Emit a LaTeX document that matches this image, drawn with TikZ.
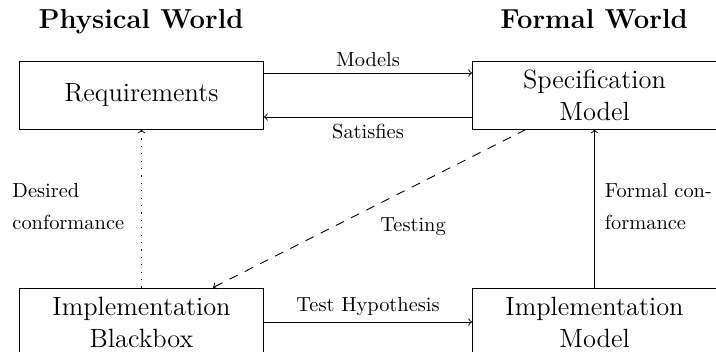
\documentclass[tikz,border=0pt]{standalone}
\usetikzlibrary{calc}
\begin{document}
\begin{tikzpicture}[x=0.5pt,y=-0.5pt,
  line width=0.45pt,
  box/.style={draw, rectangle, minimum width=122pt, minimum height=34pt,
    inner sep=0pt, align=center, font=\fontsize{13.2}{16}\selectfont},
  title/.style={font=\fontsize{13.7}{16}\selectfont\bfseries, anchor=base},
  lbl/.style={font=\fontsize{10.2}{16}\selectfont},
  lblleft/.style={lbl, align=left, anchor=base west, inner sep=0pt},
  dotline/.style={dash pattern=on 0.6pt off 3.1pt},
  dashline/.style={dash pattern=on 4.5pt off 4pt}]
\useasboundingbox (0,0) rectangle (716,352);
\clip (0,0) rectangle (716,352);

% column headings
\node[title] (phys) at (141,29) {Physical World};
\node[title] (form) at (594,29) {Formal World};

% the four boxes
\node[box] (req)  at (141.5,95)  {Requirements};
\node[box] (spec) at (594.5,95)  {Specification\\Model};
\node[box] (impl) at (141.5,322) {Implementation\\Blackbox};
\node[box] (imod) at (594.5,322) {Implementation\\Model};

% relations between the boxes
\draw[->] ([yshift=11pt]req.east) -- node[lbl, above, inner sep=3pt] (models) {Models} ([yshift=11pt]spec.west);
\draw[->] ([yshift=-11pt]spec.west) -- node[lbl, below, inner sep=3.5pt] (sat) {Satisfies} ([yshift=-11pt]req.east);
\draw[->] (impl.east) -- node[lbl, above, inner sep=3pt] (hyp) {Test Hypothesis} (imod.west);
\draw[->, dotline] (impl.north) -- (req.south);
\draw[->] (imod.north) -- (spec.south);
\draw[->, dashline] ([xshift=-34.25pt]spec.south) -- ([xshift=35.75pt]impl.north);

% side labels (anchored on the baseline of their last line)
\node[lblleft] (desired) at (12,229) {Desired\\conformance};
\node[lblleft] (formal) at (604.5,229) {Formal con-\\formance};
\node[lbl, anchor=base west, inner sep=0pt] (testing) at (380,231) {Testing};
\end{tikzpicture}
\end{document}
